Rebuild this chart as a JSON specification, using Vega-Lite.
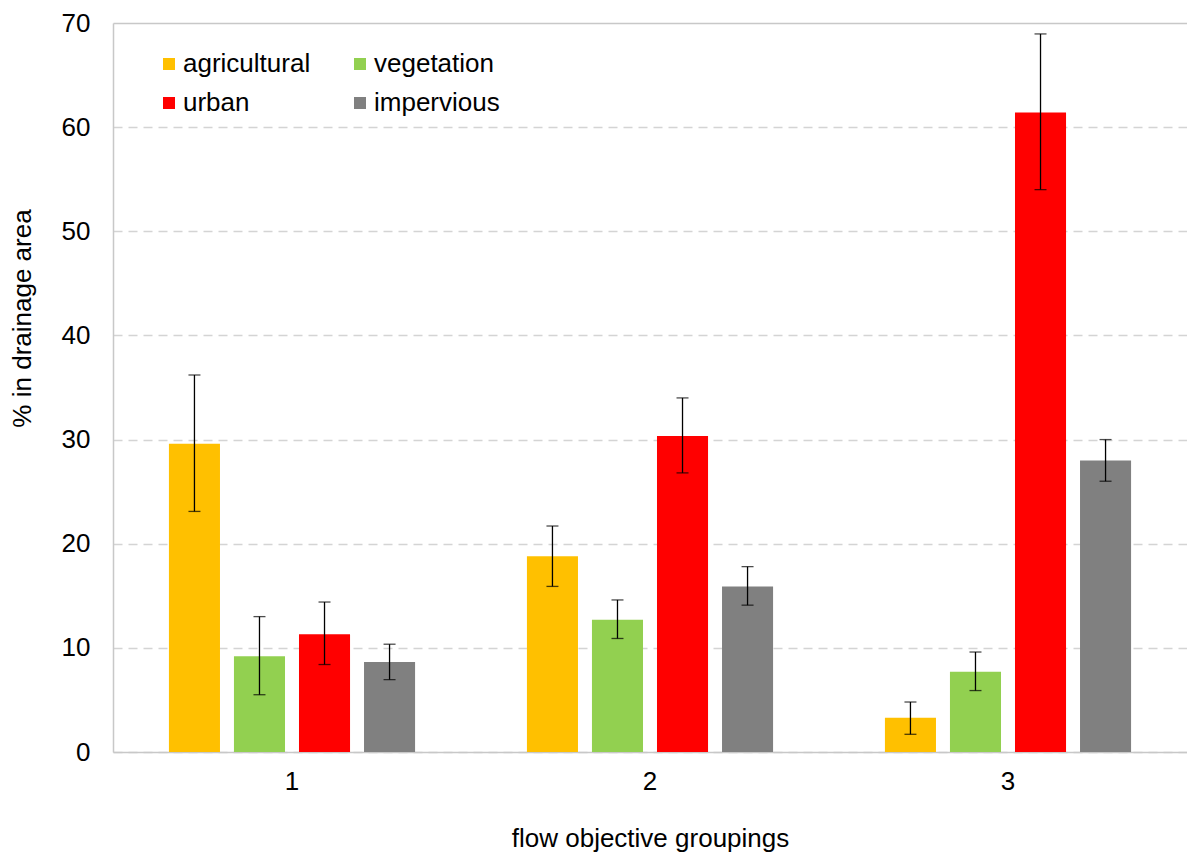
{
  "$schema": "https://vega.github.io/schema/vega-lite/v6.json",
  "width": 1074,
  "height": 729,
  "autosize": {"type": "none"},
  "padding": {"left": 113, "top": 23, "right": 0, "bottom": 101},
  "background": "white",
  "config": {
    "font": "Liberation Sans",
    "view": {"stroke": null},
    "legend": {"padding": 0}
  },
  "data": {
    "values": [
      {"group": "1", "cover": "agricultural", "value": 29.6, "lo": 23.1, "hi": 36.2},
      {"group": "1", "cover": "vegetation", "value": 9.2, "lo": 5.5, "hi": 13.0},
      {"group": "1", "cover": "urban", "value": 11.3, "lo": 8.4, "hi": 14.4},
      {"group": "1", "cover": "impervious", "value": 8.65, "lo": 6.95, "hi": 10.35},
      {"group": "2", "cover": "agricultural", "value": 18.8, "lo": 15.9, "hi": 21.7},
      {"group": "2", "cover": "vegetation", "value": 12.7, "lo": 10.9, "hi": 14.6},
      {"group": "2", "cover": "urban", "value": 30.35, "lo": 26.8, "hi": 34.0},
      {"group": "2", "cover": "impervious", "value": 15.9, "lo": 14.1, "hi": 17.8},
      {"group": "3", "cover": "agricultural", "value": 3.3, "lo": 1.7, "hi": 4.8},
      {"group": "3", "cover": "vegetation", "value": 7.7, "lo": 5.9, "hi": 9.6},
      {"group": "3", "cover": "urban", "value": 61.4, "lo": 54.0, "hi": 68.95},
      {"group": "3", "cover": "impervious", "value": 28.0, "lo": 26.0, "hi": 30.0}
    ]
  },
  "encoding": {
    "x": {
      "field": "group",
      "type": "nominal",
      "scale": {"paddingInner": 0, "paddingOuter": 0},
      "axis": {
        "title": "flow objective groupings",
        "labelAngle": 0,
        "labelFontSize": 26,
        "labelColor": "#000000",
        "labelPadding": 16,
        "ticks": false,
        "tickSize": 0,
        "domainColor": "#c8c8c8",
        "domainWidth": 1.5,
        "titleFontSize": 26,
        "titleFontWeight": "normal",
        "titleColor": "#000000",
        "titleY": 86,
        "titleBaseline": "middle"
      }
    },
    "xOffset": {
      "field": "cover",
      "type": "nominal",
      "sort": ["agricultural", "vegetation", "urban", "impervious"],
      "scale": {"paddingInner": 0.215, "paddingOuter": 0.86}
    }
  },
  "layer": [
    {
      "mark": {"type": "bar"},
      "encoding": {
        "y": {
          "field": "value",
          "type": "quantitative",
          "scale": {"domain": [0, 70], "nice": false},
          "axis": {
            "title": "% in drainage area",
            "values": [0, 10, 20, 30, 40, 50, 60, 70],
            "labelFontSize": 26,
            "labelColor": "#000000",
            "labelPadding": 23,
            "ticks": false,
            "tickSize": 0,
            "domainColor": "#c8c8c8",
            "domainWidth": 1.5,
            "grid": true,
            "gridColor": {"condition": {"test": "datum.value === 70", "value": "#c8c8c8"}, "value": "#d4d4d4"},
            "gridDash": {"condition": {"test": "datum.value === 70", "value": []}, "value": [9, 6]},
            "gridWidth": 1.5,
            "titleFontSize": 26,
            "titleFontWeight": "normal",
            "titleColor": "#000000",
            "titleX": -91,
            "titleY": 295,
            "titleAngle": -90,
            "titleAlign": "center",
            "titleBaseline": "middle"
          }
        },
        "color": {
          "field": "cover",
          "type": "nominal",
          "sort": ["agricultural", "vegetation", "urban", "impervious"],
          "scale": {
            "domain": ["agricultural", "vegetation", "urban", "impervious"],
            "range": ["#FFC000", "#92D050", "#FF0000", "#808080"]
          },
          "legend": {
            "title": null,
            "orient": "none",
            "legendX": 43,
            "legendY": 28,
            "direction": "horizontal",
            "columns": 2,
            "symbolType": "square",
            "symbolSize": 144,
            "symbolStrokeWidth": 0,
            "labelFontSize": 26,
            "labelColor": "#000000",
            "labelOffset": 1,
            "columnPadding": 36,
            "rowPadding": 13
          }
        }
      }
    },
    {
      "mark": {"type": "rule", "color": "#000000", "strokeWidth": 1.3},
      "encoding": {
        "y": {"field": "lo", "type": "quantitative"},
        "y2": {"field": "hi"}
      }
    },
    {
      "mark": {"type": "tick", "color": "#000000", "thickness": 1.3, "size": 12, "orient": "horizontal"},
      "encoding": {
        "y": {"field": "lo", "type": "quantitative"}
      }
    },
    {
      "mark": {"type": "tick", "color": "#000000", "thickness": 1.3, "size": 12, "orient": "horizontal"},
      "encoding": {
        "y": {"field": "hi", "type": "quantitative"}
      }
    }
  ]
}
